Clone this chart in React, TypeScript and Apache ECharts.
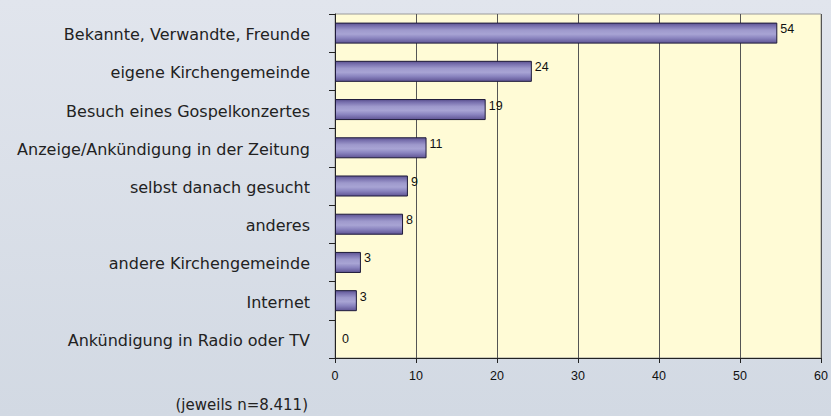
import React, { useEffect, useRef } from "react";
import * as echarts from "echarts";

const categories = [
  "Bekannte, Verwandte, Freunde",
  "eigene Kirchengemeinde",
  "Besuch eines Gospelkonzertes",
  "Anzeige/Ankündigung in der Zeitung",
  "selbst danach gesucht",
  "anderes",
  "andere Kirchengemeinde",
  "Internet",
  "Ankündigung in Radio oder TV",
];
const values = [54.6, 24.3, 18.6, 11.3, 9.0, 8.4, 3.2, 2.7, 0];
const valueLabels = ["54", "24", "19", "11", "9", "8", "3", "3", "0"];
const xTicks = [0, 10, 20, 30, 40, 50, 60];
const footnote = "(jeweils n=8.411)";

export default function App() {
  const ref = useRef<HTMLDivElement>(null);
  useEffect(() => {
    if (!ref.current) return;
    const chart = echarts.init(ref.current, null, { renderer: "svg" });
    const barGradient = new echarts.graphic.LinearGradient(0, 0, 0, 1, [
      { offset: 0, color: "#5d5392" },
      { offset: 0.15, color: "#7b73b0" },
      { offset: 0.35, color: "#9e99cc" },
      { offset: 0.55, color: "#a8a4d4" },
      { offset: 0.75, color: "#8a84bf" },
      { offset: 1, color: "#5f5494" },
    ]);
    chart.setOption({
      animation: false,
      backgroundColor: new echarts.graphic.LinearGradient(0, 0, 0, 1, [
        { offset: 0, color: "#e1e5ed" },
        { offset: 1, color: "#d2d9e3" },
      ]),
      grid: {
        left: 335,
        top: 14,
        width: 492,
        height: 344,
        show: true,
        backgroundColor: "#fffbd6",
        borderColor: "#9a9a9a",
        borderWidth: 1,
      },
      xAxis: {
        type: "value",
        min: 0,
        max: 60,
        interval: 10,
        axisLine: { show: true, lineStyle: { color: "#222", width: 1 } },
        axisTick: { show: true, length: 5, lineStyle: { color: "#222" } },
        splitLine: { show: true, lineStyle: { color: "#555", width: 1 } },
        axisLabel: {
          color: "#111",
          fontFamily: "Liberation Sans, Arial, sans-serif",
          fontSize: 12.5,
          margin: 11,
          formatter: (v: number) => (xTicks.includes(v) ? String(v) : ""),
        },
      },
      yAxis: {
        type: "category",
        data: categories,
        inverse: true,
        axisLine: { show: true, lineStyle: { color: "#222", width: 1 } },
        axisTick: { show: true, length: 6, lineStyle: { color: "#222" } },
        axisLabel: {
          margin: 25,
          formatter: (v: string) => "{a|" + v + "}",
          rich: {
            a: {
              color: "#222",
              fontFamily: "DejaVu Sans, sans-serif",
              fontSize: 16,
              lineHeight: 18,
              padding: [3, 0, 0, 0],
            },
          },
        },
      },
      series: [
        {
          type: "bar",
          data: values.map((v) => ({
            value: v,
            itemStyle:
              v === 0 ? { borderWidth: 0, color: "rgba(0,0,0,0)" } : undefined,
            label: v === 0 ? { offset: [4, 0] } : undefined,
          })),
          barWidth: "55%",
          itemStyle: {
            color: barGradient,
            borderColor: "#1e1a3a",
            borderWidth: 1,
          },
          label: {
            show: true,
            position: "right",
            distance: 3,
            color: "#111",
            fontFamily: "Liberation Sans, Arial, sans-serif",
            fontSize: 12.5,
            offset: [0, -4],
            formatter: (p: any) => valueLabels[p.dataIndex],
          },
        },
      ],
      graphic: [
        {
          type: "text",
          right: 523,
          top: 397,
          style: {
            text: footnote,
            fill: "#222",
            font: "15px 'DejaVu Sans', sans-serif",
          },
        },
      ],
    });
    return () => chart.dispose();
  }, []);
  return (
    <div
      ref={ref}
      style={{ position: "fixed", left: 0, top: 0, width: 831, height: 416 }}
    />
  );
}
